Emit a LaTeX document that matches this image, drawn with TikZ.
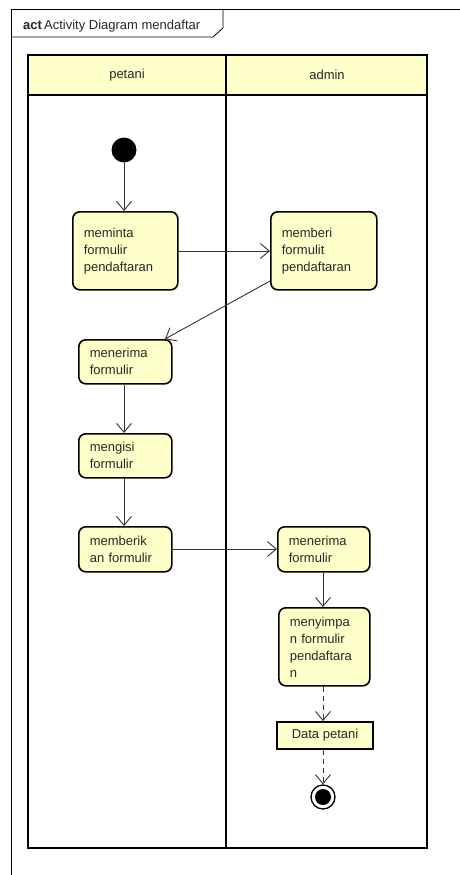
\documentclass[tikz,border=0pt]{standalone}
\usepackage{fontspec}
\setmainfont{Liberation Sans}
\usetikzlibrary{arrows.meta}
\definecolor{actfill}{RGB}{255,255,202}
\definecolor{txt}{RGB}{40,40,40}
\tikzset{
  act/.style={draw=black, line width=1.6pt, fill=actfill, rounded corners=7pt, align=left, anchor=north west, inner xsep=11pt, inner ysep=0pt, text=txt, font=\fontsize{13}{17}\selectfont},
  lane/.style={draw=black, line width=2.2pt},
  flow/.style={draw=black!80, line width=0.9pt, -{Straight Barb[length=9pt,width=15pt,line width=0.9pt]}},
  dflow/.style={flow, dash pattern=on 5pt off 4pt},
  lbl/.style={text=txt, font=\fontsize{13}{15}\selectfont},
}
\begin{document}
\begin{tikzpicture}[x=1pt,y=-1pt]
\useasboundingbox (0,0) rectangle (460,875);
% frame
\draw[line width=0.8pt] (11,875) -- (11,9) -- (460,9);
\draw[line width=0.8pt] (11,37) -- (213,37) -- (223,28) -- (223,9);
\node[lbl, anchor=base west, inner sep=0pt] (title) at (23,30) {\textbf{act}\,Activity Diagram mendaftar};
% swimlanes
\fill[actfill] (28,55) rectangle (427,95);
\draw[lane] (28,55) rectangle (427,848);
\draw[lane] (28,95) -- (427,95);
\draw[lane] (226,55) -- (226,848);
\node[lbl] (petani) at (127,75) {petani};
\node[lbl] (admin) at (327,75) {admin};
% initial
\node[circle, fill=black, minimum size=25pt, inner sep=0pt] (start) at (124,150) {};
% actions
\node[act, text width=83pt, minimum height=78pt] (b1) at (72,211) {meminta\\formulir\\pendaftaran};
\node[act, text width=84pt, minimum height=78pt] (b2) at (270,211) {memberi\\formulit\\pendaftaran};
\node[act, text width=71pt, minimum height=44pt] (b3) at (78,339) {menerima\\formulir};
\node[act, text width=71pt, minimum height=44pt] (b4) at (78,433) {mengisi\\formulir};
\node[act, text width=71pt, minimum height=45pt] (b5) at (78,526) {memberik\\an formulir};
\node[act, text width=70pt, minimum height=45pt] (b6) at (277,526) {menerima\\formulir};
\node[act, text width=69pt, minimum height=78pt] (b7) at (278,607) {menyimpa\\n formulir\\pendaftara\\n};
% object node
\node[draw=black, line width=1.8pt, fill=actfill, minimum width=96pt, minimum height=27pt, inner sep=0pt, lbl] (data) at (325,735.5) {Data petani};
% final
\node[circle, draw=black, line width=1.3pt, minimum size=24pt, inner sep=0pt] (end) at (323,797) {};
\node[circle, fill=black, minimum size=16pt, inner sep=0pt] (endin) at (323,797) {};
% flows
\draw[flow] (start) -- (b1.north -| start);
\coordinate (b1r) at (177,251);
\coordinate (b2l) at (270,251);
\draw[flow] (b1r) -- (b2l);
\coordinate (b2s) at (270,281);
\coordinate (b3t) at (165,339);
\draw[flow] (b2s) -- (b3t);
\draw[flow] (b3.south -| start) -- (b4.north -| start);
\draw[flow] (b4.south -| start) -- (b5.north -| start);
\coordinate (b5r) at (171,549);
\coordinate (b6l) at (277,549);
\draw[flow] (b5r) -- (b6l);
\coordinate (x6) at (323,0);
\draw[flow] (b6.south -| x6) -- (b7.north -| x6);
\draw[dflow] (b7.south -| x6) -- (data.north -| x6);
\draw[dflow] (data.south -| x6) -- (end.north);
\end{tikzpicture}
\end{document}
